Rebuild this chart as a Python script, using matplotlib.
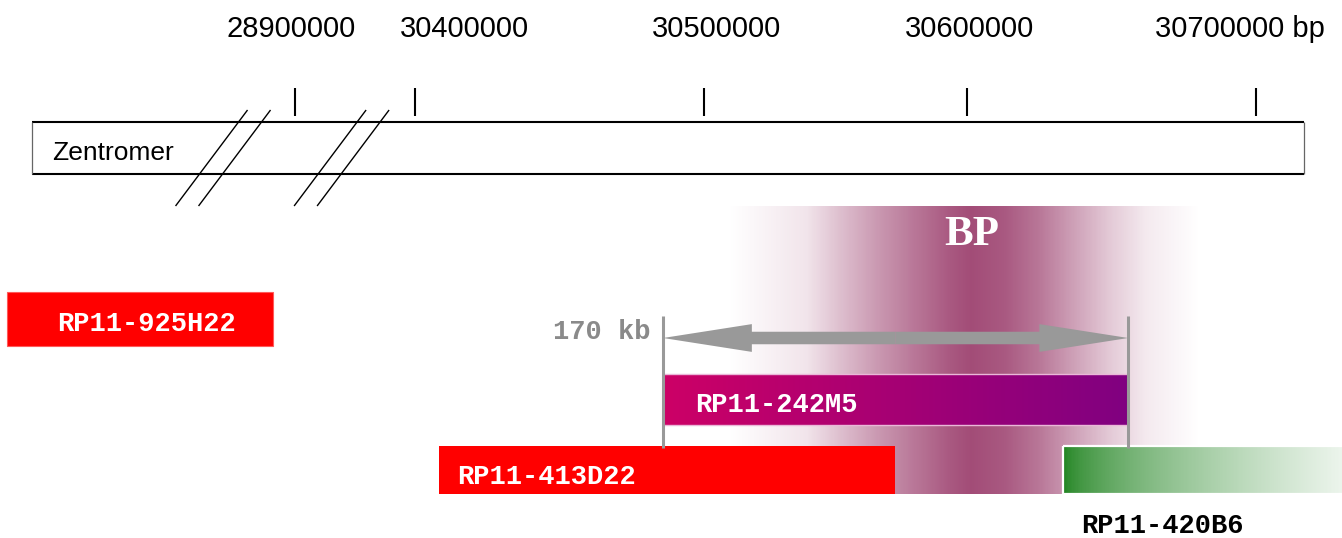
import numpy as np
import matplotlib
matplotlib.use("Agg")
import matplotlib.pyplot as plt
from matplotlib.patches import Rectangle, FancyArrowPatch, ArrowStyle

# ---------------------------------------------------------------- data (bp)
tick_bp = [28900000, 30400000, 30500000, 30600000, 30700000]
tick_labels = ["28900000", "30400000", "30500000", "30600000", "30700000 bp"]

chrom_span = [28806000, 30716600]
chrom_label = "Zentromer"
break_bp = [28874300, 29586600]

clone_names = ["RP11-925H22", "RP11-242M5", "RP11-413D22", "RP11-420B6"]
clone_start = [28797000, 30485800, 30408300, 30633200]
clone_end = [28892000, 30655800, 30572600, 30745000]

# breakpoint region: relative shading intensity along the chromosome
bp_label = "BP"
bp_profile_bp = [30509500, 30539000, 30553000, 30566500, 30580000, 30593500,
                 30601500, 30613000, 30625000, 30637500, 30649500, 30662000,
                 30680500]
bp_profile_level = [0.0, 0.15, 0.38, 0.58, 0.76, 0.93, 1.0, 0.93, 0.76,
                    0.52, 0.3, 0.12, 0.0]

# ---------------------------------------------------------------- broken axis
# piecewise-linear map from bp to drawing units; the short segments squeeze
# the gaps between 28.9 Mb and 30.4 Mb
MAP_BP = np.array([28800000, 28900000, 28915000, 30375000,
                   30400000, 30500000, 30600000, 30700000], float)
MAP_U = np.array([15, 295, 337, 347, 415, 704, 967, 1256], float)


def _piecewise(x, xs, ys):
    x = np.asarray(x, float)
    y = np.interp(x, xs, ys)
    sl0 = (ys[1] - ys[0]) / (xs[1] - xs[0])
    sl1 = (ys[-1] - ys[-2]) / (xs[-1] - xs[-2])
    y = np.where(x < xs[0], ys[0] + (x - xs[0]) * sl0, y)
    y = np.where(x > xs[-1], ys[-1] + (x - xs[-1]) * sl1, y)
    return y


def fwd(x):
    return _piecewise(x, MAP_BP, MAP_U)


def inv(u):
    return _piecewise(u, MAP_U, MAP_BP)


W, H = 1342, 538
fig = plt.figure(figsize=(W / 100, H / 100), dpi=100)
ax = fig.add_axes([0, 0, 1, 1])
ax.set_xscale("function", functions=(fwd, inv))
ax.set_xlim(float(inv(0)), float(inv(W)))
ax.set_ylim(H, 0)
ax.axis("off")

SANS = ["Liberation Sans", "DejaVu Sans"]
MONO = ["Liberation Mono", "DejaVu Sans Mono"]
SERIF = ["Liberation Serif", "DejaVu Serif"]


def label_at(text, x, y, dx, **kw):
    ax.annotate(text, xy=(x, y), xytext=(dx, 0), textcoords="offset pixels",
                annotation_clip=False, **kw)


def gradient_bar(x0, x1, y0, y1, c0, c1, z, n=240, gamma=1.0):
    xe = np.linspace(x0, x1, n + 1)
    t = ((np.arange(n) + 0.5) / n) ** gamma
    c0 = np.array(c0, float) / 255
    c1 = np.array(c1, float) / 255
    rgb = c0[None, :] * (1 - t[:, None]) + c1[None, :] * t[:, None]
    ax.pcolormesh(xe, [y0, y1], rgb[None, :, :], shading="flat",
                  antialiased=False, linewidth=0, zorder=z)


# ---------------------------------------------------------------- scale bar
ax.vlines(tick_bp, 88, 116, color="black", lw=1.5, zorder=3)
tick_dx = [-4, 49, 13, 3, -16]
for b, lab, dx in zip(tick_bp, tick_labels, tick_dx):
    label_at(lab, b, 37, dx, ha="center", va="baseline", fontsize=21,
             family=SANS, color="black")

# chromosome outline
ax.hlines([122, 174], chrom_span[0], chrom_span[1], color="black", lw=1.5,
          zorder=3)
ax.vlines(chrom_span, 122, 174, color="#666666", lw=0.9, zorder=3)
label_at(chrom_label, chrom_span[0], 160, 20, ha="left", va="baseline",
         fontsize=19, family=SANS, color="black")

# break marks
for c in break_bp:
    uc = float(fwd(c))
    for d in (-11.5, 11.5):
        xs = inv([uc + d - 36, uc + d + 36])
        ax.plot(xs, [206, 110], color="black", lw=1.0, zorder=4,
                solid_capstyle="butt")

# ---------------------------------------------------------------- BP region
xe = np.linspace(bp_profile_bp[0], bp_profile_bp[-1], 401)
xc = 0.5 * (xe[:-1] + xe[1:])
lvl = np.interp(xc, bp_profile_bp, bp_profile_level)
peak = np.array([162, 76, 119], float) / 255
rgb = 1 - (1 - peak)[None, :] * lvl[:, None]
ax.pcolormesh(xe, [206, 494], rgb[None, :, :], shading="flat",
              antialiased=False, linewidth=0, zorder=1)
peak_bp = bp_profile_bp[int(np.argmax(bp_profile_level))]
label_at(bp_label, peak_bp, 245, 0, ha="center", va="baseline", fontsize=31,
         family=SERIF, weight="bold", color="white", zorder=6)

# ---------------------------------------------------------------- clones
rows = {"RP11-925H22": (292, 346), "RP11-242M5": (374, 425),
        "RP11-413D22": (446, 494), "RP11-420B6": (446, 494)}

s, e = clone_start[0], clone_end[0]
y0, y1 = rows[clone_names[0]]
ax.add_patch(Rectangle((s, y0), e - s, y1 - y0, facecolor="#ff0000",
                       edgecolor="#ff5a5a", lw=0.8, zorder=2))
label_at(clone_names[0], s, 331, 51, ha="left", va="baseline", fontsize=19.5,
         family=MONO, weight="bold", color="white", zorder=6)

s, e = clone_start[1], clone_end[1]
y0, y1 = rows[clone_names[1]]
gradient_bar(s, e, y0, y1, (204, 0, 102), (128, 0, 128), z=2)
ax.add_patch(Rectangle((s, y0), e - s, y1 - y0, facecolor="none",
                       edgecolor="#eab8d8", lw=1.0, zorder=3))
label_at(clone_names[1], s, 412, 32, ha="left", va="baseline", fontsize=19.5,
         family=MONO, weight="bold", color="white", zorder=6)

s, e = clone_start[2], clone_end[2]
y0, y1 = rows[clone_names[2]]
ax.add_patch(Rectangle((s, y0), e - s, y1 - y0, facecolor="#ff0000",
                       edgecolor="none", zorder=2))
label_at(clone_names[2], s, 484, 18, ha="left", va="baseline", fontsize=19.5,
         family=MONO, weight="bold", color="white", zorder=6)

s, e = clone_start[3], clone_end[3]
y0, y1 = rows[clone_names[3]]
gradient_bar(s, e, y0, y1, (26, 128, 26), (255, 255, 255), z=2, gamma=0.6)
ax.add_patch(Rectangle((s, y0), e - s, y1 - y0, facecolor="none",
                       edgecolor="white", lw=1.6, zorder=3))
label_at(clone_names[3], s, 533, 18, ha="left", va="baseline", fontsize=19.5,
         family=MONO, weight="bold", color="black", zorder=6)

# ---------------------------------------------------------------- size arrow
a0, a1 = clone_start[1], clone_end[1]
size_kb = (a1 - a0) // 1000
ax.vlines([a0, a1], 316, 448, color="#999999", lw=2.2, zorder=4)
mid = float(inv(0.5 * (fwd(a0) + fwd(a1))))
style = ArrowStyle.Simple(head_length=64, head_width=20, tail_width=9)
for end in (a0, a1):
    ax.add_patch(FancyArrowPatch((mid, 338), (end, 338), arrowstyle=style,
                                 mutation_scale=1, shrinkA=0, shrinkB=0,
                                 color="#999999", lw=0, zorder=5))
label_at(f"{size_kb} kb", a0, 339, -12, ha="right", va="baseline",
         fontsize=19.5, family=MONO, weight="bold", color="#8a8a8a", zorder=6)

fig.savefig("out.png", dpi=100)
